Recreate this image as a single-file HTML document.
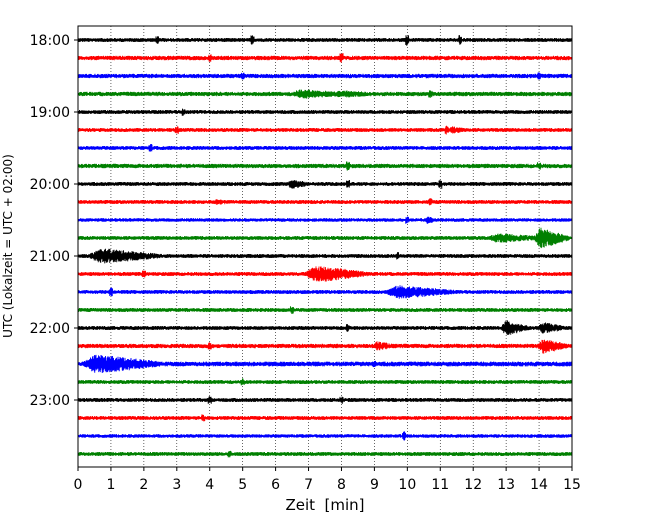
<!DOCTYPE html>
<html><head><meta charset="utf-8">
<style>
body{margin:0;background:#fff;}
svg{display:block;font-family:"DejaVu Sans","Liberation Sans",sans-serif;}
</style></head>
<body>
<svg id="chart" width="650" height="520" viewBox="0 0 650 520" xmlns="http://www.w3.org/2000/svg">
<rect x="0" y="0" width="650" height="520" fill="#fff"/>
<g id="grid"></g>
<g id="traces"></g>
<rect x="78" y="26" width="494" height="441" fill="none" stroke="#000" stroke-width="1"/>
<g id="axes"></g>
<text x="325" y="510" font-size="15" text-anchor="middle" xml:space="preserve">Zeit  [min]</text>
<text transform="translate(12,246) rotate(-90)" font-size="12" text-anchor="middle">UTC (Lokalzeit = UTC + 02:00)</text>
</svg>
<script>
// data
const xTicks = [0,1,2,3,4,5,6,7,8,9,10,11,12,13,14,15];
const traceLabels = ["18:00","18:15","18:30","18:45","19:00","19:15","19:30","19:45","20:00","20:15","20:30","20:45","21:00","21:15","21:30","21:45","22:00","22:15","22:30","22:45","23:00","23:15","23:30","23:45"];
const yTickLabels = ["18:00","19:00","20:00","21:00","22:00","23:00"];
const traceColors = ["#000000","#ff0000","#0000ff","#008000"];
const baseNoise = [2.0,2.2,2.2,2.2,2.0,2.0,2.0,2.2,2.0,2.0,1.8,2.0,2.0,2.0,2.0,2.0,2.0,2.2,2.4,2.0,2.0,2.0,1.8,2.0];
// bursts: trace index, start minute, end minute, peak amplitude (px)
const burstTrace = [3,3,8,11,11,12,13,14,16,16,17,17,18,10,5,9];
const burstStart = [6.3,7.6,6.3,12.3,13.8,0.2,6.8,9.2,12.8,13.9,8.9,13.9,0.0,10.5,11.2,4.0];
const burstEnd   = [8.6,9.5,7.2,14.5,15.0,2.8,9.0,11.8,13.8,15.0,9.8,15.0,2.8,11.0,12.0,5.0];
const burstAmp   = [5,4,5,5,11,8,9,7,8,6,5,8,10,4,4,3];
// spikes: trace index, minute, amplitude
const spikeTrace = [0,0,0,1,1,2,3,4,5,6,7,7,8,9,10,12,13,14,16,17,19,20,20,21,22,23,0,2,5,8,15,18];
const spikeTime  = [5.3,10.0,11.6,4.0,8.0,5.0,10.7,3.2,11.2,2.2,8.2,14.0,11.0,10.7,10.0,9.7,2.0,1.0,8.2,4.0,5.0,4.0,8.0,3.8,9.9,4.6,2.4,14.0,3.0,8.2,6.5,9.0];
const spikeAmp   = [5,6,5,4,5,4,4,4,5,4,5,4,5,4,4,4,4,5,4,4,4,4,4,4,5,4,4,4,4,4,4,4];

const NS="http://www.w3.org/2000/svg";
const X0=78,X1=572,Y0=26,Y1=467;
const xScale = m => X0 + (m/15)*(X1-X0);
const yScale = i => 40 + i*18;

const grid=document.getElementById('grid');
xTicks.forEach(t=>{
  if(t===0||t===15) return;
  const l=document.createElementNS(NS,'line');
  
  
  l.setAttribute('x1',xScale(t));l.setAttribute('x2',xScale(t));
  l.setAttribute('y1',Y0);l.setAttribute('y2',Y1);
  l.setAttribute('stroke','#000');l.setAttribute('stroke-width','0.6');l.setAttribute('stroke-dasharray','1,2');
  grid.appendChild(l);
});

// deterministic texture
let seed=12345;
function rnd(){seed=(seed*1103515245+12345)%2147483648;return seed/2147483648;}

const tg=document.getElementById('traces');
traceLabels.forEach((lab,i)=>{
  const y=yScale(i);
  let d='';
  const step=0.25;
  let sgn=1;
  for(let px=X0;px<=X1;px+=step){
    const m=(px-X0)/(X1-X0)*15;
    let a=baseNoise[i];
    for(let b=0;b<burstTrace.length;b++){
      if(burstTrace[b]!==i) continue;
      const s=burstStart[b],e=burstEnd[b];
      if(m>=s&&m<=e){
        const p=(m-s)/(e-s);
        const env = p<0.2 ? p/0.2 : 1-(p-0.2)/0.8*0.85;
        a=Math.max(a,burstAmp[b]*env);
      }
    }
    for(let k=0;k<spikeTrace.length;k++){
      if(spikeTrace[k]===i && Math.abs(m-spikeTime[k])<0.05) a=Math.max(a,spikeAmp[k]);
    }
    sgn=-sgn;
    const v=sgn*(0.35+0.65*rnd())*a;
    d+=(d?'L':'M')+px.toFixed(2)+','+(y+v).toFixed(1);
  }
  const p=document.createElementNS(NS,'path');
  
  
  p.setAttribute('d',d);
  p.setAttribute('fill','none');
  p.setAttribute('stroke',traceColors[i%4]);
  p.setAttribute('stroke-width','0.9');
  tg.appendChild(p);
});

const ax=document.getElementById('axes');
xTicks.forEach(t=>{
  const l=document.createElementNS(NS,'line');
  
  
  l.setAttribute('x1',xScale(t));l.setAttribute('x2',xScale(t));
  l.setAttribute('y1',Y1);l.setAttribute('y2',Y1+4);
  l.setAttribute('stroke','#000');
  ax.appendChild(l);
  const tx=document.createElementNS(NS,'text');
  
  
  tx.setAttribute('x',xScale(t));tx.setAttribute('y',Y1+22);
  tx.setAttribute('font-size','14');tx.setAttribute('text-anchor','middle');
  tx.textContent=t;
  ax.appendChild(tx);
});
yTickLabels.forEach(lab=>{
  const i=traceLabels.indexOf(lab);
  const y=yScale(i);
  const l=document.createElementNS(NS,'line');
  
  
  l.setAttribute('x1',X0-4);l.setAttribute('x2',X0);
  l.setAttribute('y1',y);l.setAttribute('y2',y);
  l.setAttribute('stroke','#000');
  ax.appendChild(l);
  const tx=document.createElementNS(NS,'text');
  
  
  tx.setAttribute('x',X0-8);tx.setAttribute('y',y+5);
  tx.setAttribute('font-size','14');tx.setAttribute('text-anchor','end');
  tx.textContent=lab;
  ax.appendChild(tx);
});
</script>
</body></html>
